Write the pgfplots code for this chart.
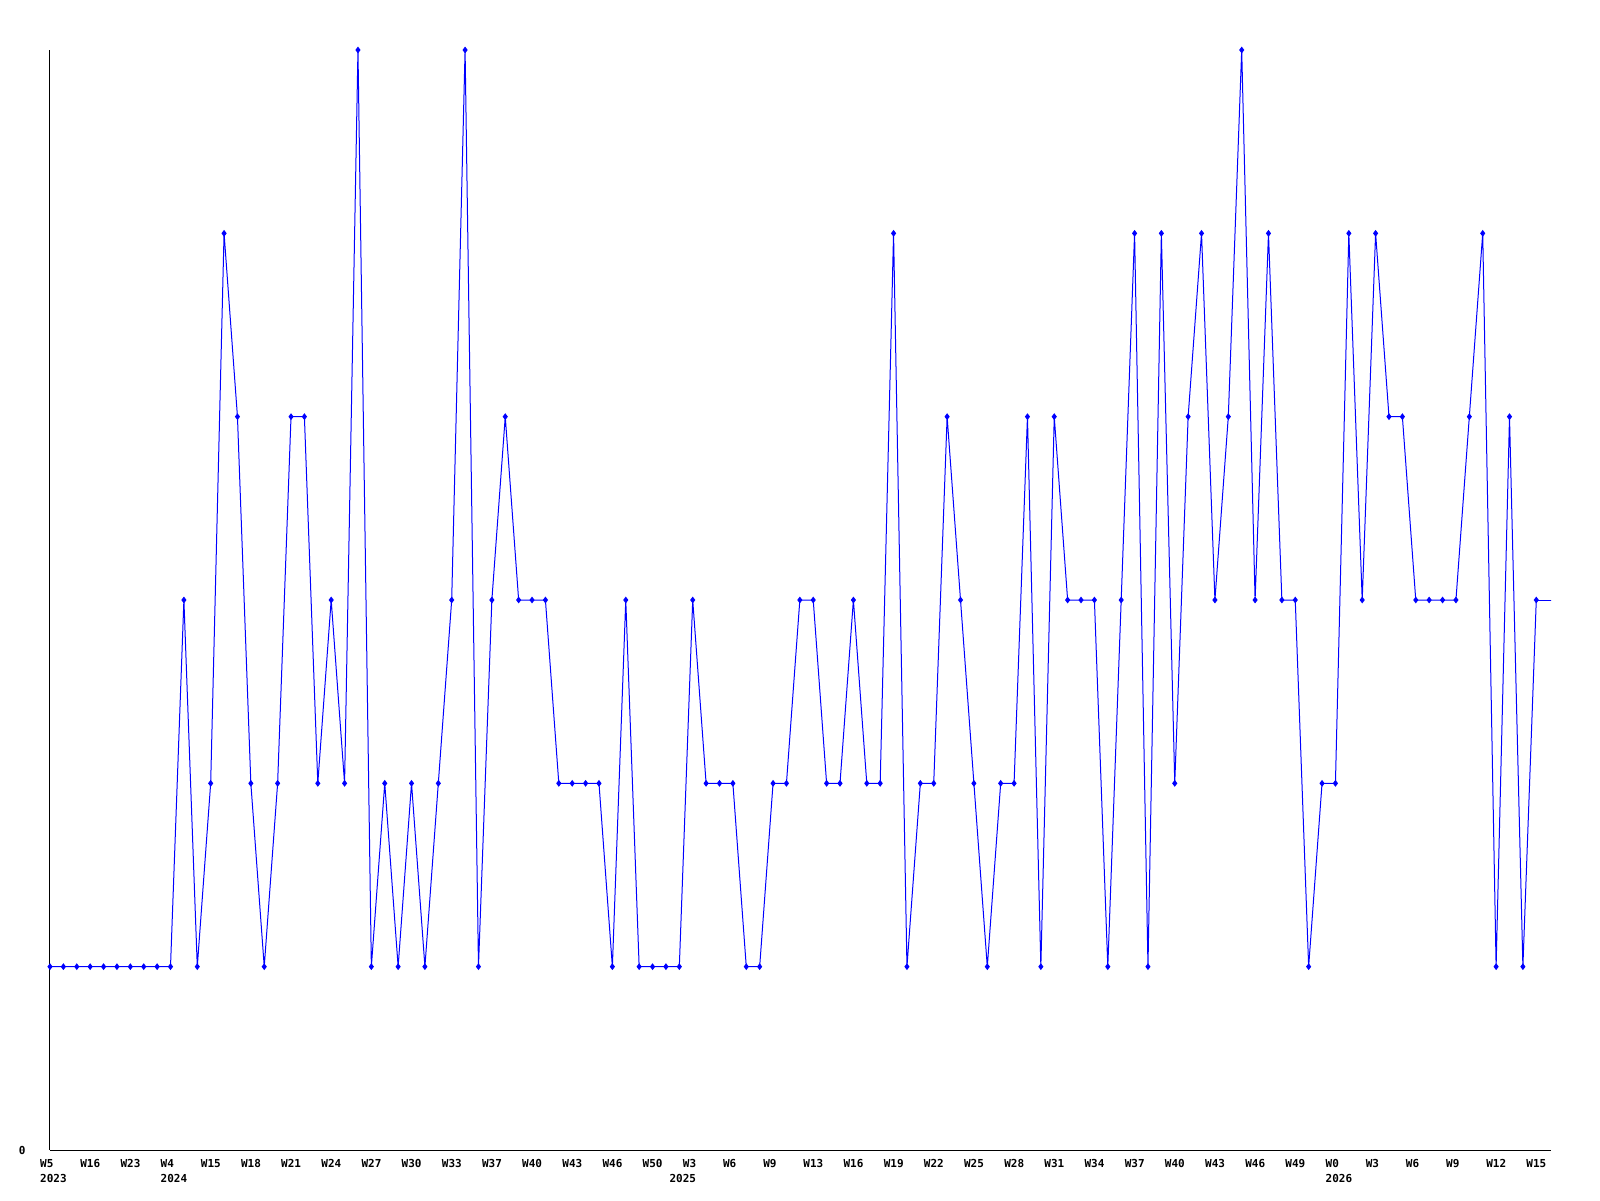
\documentclass[border=0pt]{standalone}
\usepackage{pgfplots}
\pgfplotsset{compat=1.18}
\usepackage{fontspec}
\setmainfont{DejaVu Sans Mono}
\begin{document}
\begin{tikzpicture}[x=1pt,y=1pt]
\path[use as bounding box] (0,0) rectangle (800,600);
\begin{axis}[
 at={(25pt,25pt)}, anchor=south west,
 scale only axis, width=750.5pt, height=550pt,
 xmin=0, xmax=112.1, ymin=0, ymax=6,
 axis x line*=bottom, axis y line*=left,
 axis line style={black, line width=0.5pt, -},
 major tick length=0pt,
 xtick={0,3,...,111},
 xticklabels={W5,W16,W23,W4,W15,W18,W21,W24,W27,W30,W33,W37,W40,W43,W46,W50,W3,W6,W9,W13,W16,W19,W22,W25,W28,W31,W34,W37,W40,W43,W46,W49,W0,W3,W6,W9,W12,W15},
 extra x ticks={0,9,47,96},
 extra x tick labels={2023,2024,2025,2026},
 extra x tick style={xticklabel style={yshift=-7.5pt}},
 ytick={0},
 tick label style={font=\fontsize{5.5pt}{6.6pt}\selectfont\bfseries},
 xticklabel style={anchor=north west, inner sep=0pt, xshift=-5.1pt, yshift=-4.5pt},
 yticklabel style={anchor=east, inner sep=0pt, xshift=-12pt},
 /pgf/number format/assume math mode=true,
]
\addplot[color={rgb,255:red,0;green,0;blue,255}, line width=0.5pt, mark=diamond*, mark size=1.3pt, mark options={solid}] coordinates {
(0,1)(1,1)(2,1)(3,1)(4,1)(5,1)(6,1)(7,1)(8,1)(9,1)
(10,3)(11,1)(12,2)(13,5)(14,4)(15,2)(16,1)(17,2)(18,4)(19,4)
(20,2)(21,3)(22,2)(23,6)(24,1)(25,2)(26,1)(27,2)(28,1)(29,2)
(30,3)(31,6)(32,1)(33,3)(34,4)(35,3)(36,3)(37,3)(38,2)(39,2)
(40,2)(41,2)(42,1)(43,3)(44,1)(45,1)(46,1)(47,1)(48,3)(49,2)
(50,2)(51,2)(52,1)(53,1)(54,2)(55,2)(56,3)(57,3)(58,2)(59,2)
(60,3)(61,2)(62,2)(63,5)(64,1)(65,2)(66,2)(67,4)(68,3)(69,2)
(70,1)(71,2)(72,2)(73,4)(74,1)(75,4)(76,3)(77,3)(78,3)(79,1)
(80,3)(81,5)(82,1)(83,5)(84,2)(85,4)(86,5)(87,3)(88,4)(89,6)
(90,3)(91,5)(92,3)(93,3)(94,1)(95,2)(96,2)(97,5)(98,3)(99,5)
(100,4)(101,4)(102,3)(103,3)(104,3)(105,3)(106,4)(107,5)(108,1)(109,4)
(110,1)(111,3)
};
\addplot[color={rgb,255:red,0;green,0;blue,255}, line width=0.5pt, no marks, forget plot] coordinates {(111,3)(113,3)};
\end{axis}
\end{tikzpicture}
\end{document}
